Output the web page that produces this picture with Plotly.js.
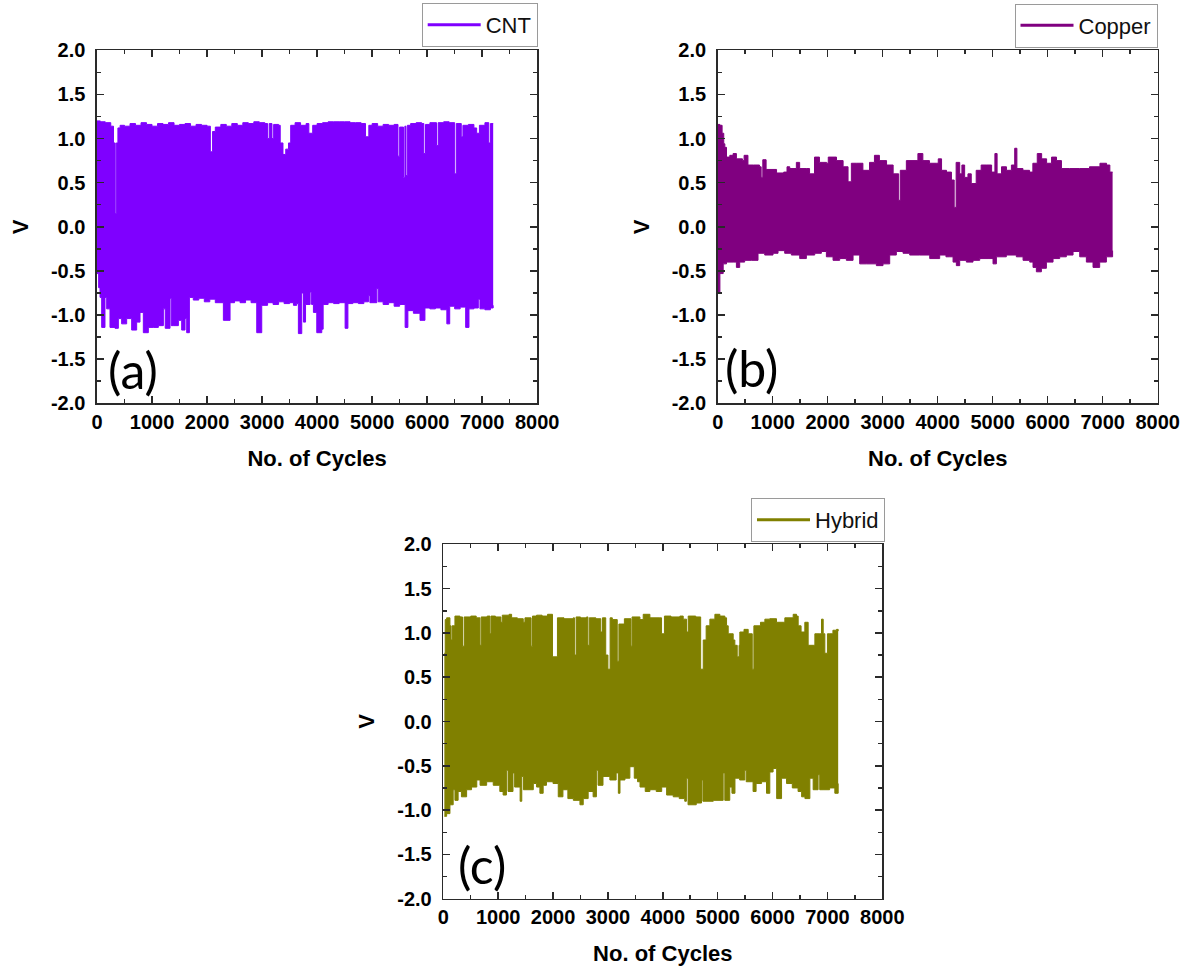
<!DOCTYPE html>
<html>
<head>
<meta charset="utf-8">
<script src="https://cdn.plot.ly/plotly-3.0.1.min.js"></script>
<style>html,body{margin:0;padding:0;background:#fff;}#chart{width:1189px;height:969px;}</style>
</head>
<body>
<div id="chart"></div>
<script>
// ---------- Data ----------
const seriesNames = ["CNT", "Copper", "Hybrid"];
const panelLabels = ["(a)", "(b)", "(c)"];
const xTickVals = [0, 1000, 2000, 3000, 4000, 5000, 6000, 7000, 8000];
const yTickVals = [-2.0, -1.5, -1.0, -0.5, 0.0, 0.5, 1.0, 1.5, 2.0];

// CNT – upper envelope
const cntUpperCycles = [0,60,150,250,300,330,350,380,420,500,600,700,800,900,1000,1100,1200,1300,1400,1500,1600,1700,1800,1900,2000,2060,2100,2150,2250,2350,2450,2550,2650,2750,2850,2950,3050,3100,3130,3180,3210,3300,3330,3380,3430,3480,3520,3600,3700,3800,3850,3920,4000,4100,4200,4300,4400,4500,4600,4700,4800,4880,4940,5000,5100,5200,5300,5400,5470,5500,5570,5595,5615,5640,5700,5800,5900,5940,5970,6050,6170,6200,6300,6400,6500,6530,6620,6650,6750,6850,6900,6950,7050,7120,7150,7200];
const cntUpperV = [1.20,1.19,1.18,1.14,0.95,0.15,0.95,1.12,1.15,1.14,1.17,1.15,1.18,1.16,1.14,1.17,1.16,1.18,1.15,1.16,1.17,1.14,1.16,1.15,1.14,0.85,1.08,1.13,1.16,1.14,1.17,1.15,1.18,1.17,1.19,1.18,1.17,1.00,1.17,1.00,1.16,1.15,0.95,0.82,0.88,0.95,1.15,1.18,1.15,1.17,1.06,1.15,1.17,1.18,1.19,1.19,1.19,1.19,1.18,1.18,1.17,1.02,1.15,1.17,1.14,1.16,1.15,1.16,0.80,1.13,0.56,1.14,0.58,1.15,1.17,1.18,1.17,0.83,1.16,1.18,0.92,1.18,1.19,1.18,0.60,1.17,1.02,1.15,1.16,1.12,1.06,1.15,1.18,0.95,1.17,1.17];
// CNT – lower envelope
const cntLowerCycles = [0,30,55,85,145,176,236,327,388,448,539,630,721,782,842,933,1024,1115,1206,1240,1327,1350,1388,1479,1539,1600,1630,1679,1750,1850,1950,2050,2150,2297,2418,2500,2600,2700,2800,2903,2964,2994,3100,3200,3300,3400,3500,3570,3630,3660,3721,3752,3790,3873,3900,3933,3994,4085,4110,4200,4300,4400,4509,4560,4650,4750,4850,4933,4960,5085,5110,5200,5300,5400,5500,5600,5650,5750,5870,5960,6050,6150,6250,6358,6410,6500,6600,6700,6760,6850,6930,6960,7050,7150,7200];
const cntLowerV = [-0.53,-0.69,-0.80,-1.14,-0.80,-0.93,-1.14,-1.15,-1.04,-1.10,-1.04,-1.17,-1.08,-0.97,-1.20,-1.14,-1.14,-1.12,-0.93,-1.15,-0.81,-1.12,-1.12,-1.06,-1.17,-1.04,-1.20,-0.80,-0.83,-0.81,-0.85,-0.82,-0.86,-1.06,-0.86,-0.84,-0.86,-0.83,-0.86,-1.20,-1.20,-0.89,-0.86,-0.88,-0.85,-0.87,-0.86,-0.89,-0.87,-1.21,-0.75,-1.08,-0.88,-0.74,-0.88,-0.97,-1.20,-1.16,-0.88,-0.86,-0.87,-0.86,-1.15,-0.87,-0.86,-0.87,-0.85,-0.78,-0.86,-0.70,-0.85,-0.88,-0.86,-0.90,-0.88,-1.14,-0.95,-0.98,-1.06,-0.92,-0.93,-0.92,-0.94,-1.10,-0.90,-0.93,-0.91,-1.14,-0.93,-0.92,-0.82,-0.93,-0.94,-0.92,-0.89];

// Copper – upper envelope
const cuUpperCycles = [0,40,80,110,130,160,220,280,340,450,480,550,650,760,790,820,880,1070,1200,1260,1310,1430,1490,1610,1670,1760,1850,1980,2010,2160,2280,2370,2430,2520,2640,2760,2850,2940,3070,3190,3290,3320,3430,3640,3730,3850,3980,4010,4070,4160,4250,4300,4335,4400,4440,4490,4550,4610,4700,4790,4880,4980,5040,5080,5160,5250,5340,5400,5440,5550,5670,5730,5810,5890,5980,6070,6160,6250,6400,6580,6760,6950,7070,7130,7180];
const cuUpperV = [1.16,1.15,1.06,0.94,0.90,0.79,0.81,0.83,0.77,0.75,0.81,0.70,0.70,0.68,0.56,0.76,0.65,0.61,0.62,0.68,0.66,0.73,0.66,0.66,0.60,0.79,0.73,0.72,0.79,0.75,0.68,0.51,0.72,0.72,0.64,0.73,0.81,0.75,0.70,0.60,0.30,0.64,0.75,0.83,0.75,0.72,0.72,0.77,0.64,0.62,0.53,0.22,0.73,0.60,0.70,0.56,0.60,0.49,0.64,0.70,0.70,0.62,0.83,0.60,0.68,0.64,0.70,0.89,0.66,0.64,0.62,0.72,0.83,0.77,0.72,0.79,0.75,0.66,0.66,0.66,0.68,0.72,0.70,0.62,0.62];
// Copper – lower envelope
const cuLowerCycles = [0,40,100,160,280,340,400,490,610,733,855,1006,1097,1218,1339,1491,1612,1764,1885,1976,2097,2218,2339,2461,2582,2703,2885,3006,3127,3248,3370,3491,3673,3855,4036,4150,4218,4279,4339,4400,4521,4642,4764,4915,5006,5067,5248,5430,5552,5673,5733,5794,5885,5976,6097,6218,6339,6461,6582,6703,6824,6945,7067,7180];
const cuLowerV = [-0.75,-0.53,-0.42,-0.40,-0.40,-0.46,-0.40,-0.38,-0.38,-0.30,-0.32,-0.30,-0.27,-0.30,-0.32,-0.36,-0.32,-0.30,-0.28,-0.34,-0.38,-0.36,-0.38,-0.32,-0.42,-0.42,-0.44,-0.42,-0.32,-0.28,-0.30,-0.32,-0.32,-0.36,-0.32,-0.34,-0.34,-0.40,-0.44,-0.38,-0.40,-0.38,-0.36,-0.36,-0.42,-0.34,-0.32,-0.34,-0.38,-0.40,-0.46,-0.51,-0.47,-0.40,-0.36,-0.34,-0.32,-0.28,-0.34,-0.40,-0.46,-0.40,-0.34,-0.27];

// Hybrid – upper envelope
const hyUpperCycles = [19,35,61,121,140,160,212,303,350,380,500,600,668,690,800,850,870,950,1050,1075,1200,1245,1350,1457,1488,1600,1625,1700,1800,1900,1990,2080,2200,2368,2390,2420,2500,2611,2635,2660,2780,2870,2900,2960,3000,3040,3080,3170,3200,3300,3420,3440,3583,3643,3765,3947,3977,4030,4150,4311,4372,4433,4463,4600,4690,4737,4790,4858,4949,5040,5131,5162,5192,5283,5313,5356,5390,5404,5480,5556,5630,5660,5780,5860,5950,6072,6194,6224,6376,6437,6467,6520,6588,6649,6740,6771,6862,6892,6923,6953,7000,7044,7100,7166,7196];
const hyUpperV = [0.77,1.15,1.17,1.08,0.92,1.08,1.19,1.18,0.85,1.18,1.19,1.17,0.86,1.18,1.19,0.99,1.19,1.18,1.12,1.20,1.21,1.17,1.16,1.12,1.17,0.85,1.19,1.20,1.19,1.21,0.73,1.17,1.16,1.17,0.75,1.18,1.17,1.18,0.86,1.17,1.16,1.01,1.17,0.75,0.59,1.17,1.15,0.68,1.10,1.16,0.85,1.18,1.15,1.21,1.17,1.17,0.99,1.19,1.18,1.19,1.155,1.01,1.19,1.18,0.59,0.92,1.08,1.155,1.21,1.19,1.17,1.08,0.99,0.92,0.86,0.73,0.86,1.01,1.04,0.99,0.59,1.08,1.12,1.155,1.16,1.12,1.12,1.17,1.21,1.19,1.08,1.01,1.12,0.86,0.86,0.99,0.99,1.155,0.99,0.77,0.99,0.99,1.03,1.04,1.02];
// Hybrid – lower envelope
const hyLowerCycles = [19,61,121,180,212,270,330,425,515,610,670,790,910,1030,1090,1150,1180,1270,1300,1400,1430,1460,1640,1700,1760,1820,1880,2000,2095,2180,2270,2370,2490,2550,2640,2730,2790,2820,2910,3035,3150,3190,3220,3310,3400,3480,3540,3585,3680,3765,3880,3980,4070,4190,4300,4400,4430,4460,4610,4705,4730,4920,5100,5130,5220,5260,5315,5400,5495,5520,5645,5700,5800,5890,5950,6010,6075,6164,6255,6360,6465,6530,6590,6680,6740,6830,6860,6920,7040,7135,7196];
const hyLowerV = [-1.07,-1.04,-0.94,-0.77,-0.89,-0.79,-0.85,-0.77,-0.74,-0.66,-0.72,-0.68,-0.72,-0.79,-0.83,-0.55,-0.79,-0.58,-0.74,-0.90,-0.62,-0.77,-0.70,-0.74,-0.81,-0.72,-0.68,-0.70,-0.85,-0.77,-0.87,-0.89,-0.94,-0.87,-0.79,-0.85,-0.55,-0.72,-0.62,-0.66,-0.58,-0.81,-0.66,-0.64,-0.51,-0.64,-0.68,-0.74,-0.79,-0.77,-0.79,-0.74,-0.83,-0.85,-0.87,-0.90,-0.64,-0.94,-0.92,-0.66,-0.90,-0.89,-0.58,-0.89,-0.74,-0.81,-0.64,-0.66,-0.55,-0.68,-0.79,-0.70,-0.68,-0.81,-0.57,-0.53,-0.87,-0.64,-0.70,-0.75,-0.79,-0.85,-0.87,-0.64,-0.77,-0.60,-0.77,-0.77,-0.75,-0.81,-0.70];

// ---------- Styling ----------
const colors = ["#7F00FF", "#800080", "#808000"];
const W = 1189, H = 969;
// plot-area pixel boxes [left, top, right, bottom]
const boxes = [[97, 50.3, 537.2, 403.3], [717.7, 50.3, 1157.7, 403.3], [443.3, 544.3, 882.3, 898.7]];
const legendPos = [[537.7, 3], [1157.5, 3.5], [885, 498]];
const labelPos = [[133, 369.5], [751, 368], [482, 865]];

const data = [];
const sets = [
  [cntLowerCycles, cntLowerV, cntUpperCycles, cntUpperV],
  [cuLowerCycles, cuLowerV, cuUpperCycles, cuUpperV],
  [hyLowerCycles, hyLowerV, hyUpperCycles, hyUpperV]
];
sets.forEach((s, i) => {
  const ax = i === 0 ? "" : String(i + 1);
  const xa = "x" + ax, ya = "y" + ax;
  const leg = i === 0 ? "legend" : "legend" + (i + 1);
  data.push({x: s[0], y: s[1], xaxis: xa, yaxis: ya, mode: "lines", line: {color: colors[i], width: 1, shape: "hv"},
             showlegend: false, hoverinfo: "skip"});
  data.push({x: s[2], y: s[3], xaxis: xa, yaxis: ya, mode: "lines", line: {color: colors[i], width: 1, shape: "hv"},
             fill: "tonexty", fillcolor: colors[i], showlegend: false, hoverinfo: "skip"});
  data.push({x: [null], y: [null], xaxis: xa, yaxis: ya, mode: "lines", name: seriesNames[i],
             line: {color: colors[i], width: 3}, showlegend: true, legend: leg});
});

const tickFont = {family: "Liberation Sans, Arial, sans-serif", size: 20, color: "#000", weight: "bold"};
const titleFont = {family: "Liberation Sans, Arial, sans-serif", size: 22, color: "#000", weight: "bold"};

const layout = {
  width: W, height: H,
  margin: {l: 0, r: 0, t: 0, b: 0},
  paper_bgcolor: "#fff", plot_bgcolor: "#fff",
  annotations: [],
  showlegend: true
};

boxes.forEach((b, i) => {
  const ax = i === 0 ? "" : String(i + 1);
  const common = {
    showline: true, linecolor: "#2a2a2a", linewidth: 1.6, mirror: "ticks",
    ticks: "inside", ticklen: 7, tickwidth: 1.5, tickcolor: "#2a2a2a",
    showgrid: false, zeroline: false, tickfont: tickFont, fixedrange: true
  };
  layout["xaxis" + ax] = Object.assign({}, common, {
    domain: [b[0] / W, b[2] / W], anchor: "y" + ax, range: [0, 8000],
    tickvals: xTickVals, ticktext: xTickVals.map(String),
    minor: {dtick: 500, tick0: 0, ticks: "inside", ticklen: 4, tickwidth: 1.5, tickcolor: "#2a2a2a", showgrid: false},
    ticklabelstandoff: 0,
    title: {text: "No. of Cycles", font: titleFont, standoff: 18}
  });
  layout["yaxis" + ax] = Object.assign({}, common, {
    domain: [1 - b[3] / H, 1 - b[1] / H], anchor: "x" + ax, range: [-2, 2],
    tickvals: yTickVals, ticktext: yTickVals.map(v => v.toFixed(1)),
    minor: {dtick: 0.25, tick0: 0, ticks: "inside", ticklen: 4, tickwidth: 1.5, tickcolor: "#2a2a2a", showgrid: false},
    ticklabelstandoff: 6,
    title: {text: "V", font: titleFont, standoff: 16}
  });
  const leg = i === 0 ? "legend" : "legend" + (i + 1);
  layout[leg] = {
    x: legendPos[i][0] / W, y: 1 - legendPos[i][1] / H, xanchor: "right", yanchor: "top",
    xref: "paper", yref: "paper",
    bgcolor: "#fff", bordercolor: "#9a9a9a", borderwidth: 1,
    font: {family: "Liberation Sans, Arial, sans-serif", size: 22, color: "#111"},
    itemwidth: 53, tracegroupgap: 0
  };
  layout.annotations.push({
    text: panelLabels[i], xref: "paper", yref: "paper",
    x: labelPos[i][0] / W, y: 1 - labelPos[i][1] / H, xanchor: "center", yanchor: "middle",
    showarrow: false, font: {family: "Lato, Open Sans, sans-serif", size: 50, color: "#000"}
  });
});

Plotly.newPlot("chart", data, layout, {displayModeBar: false, staticPlot: true});
</script>
</body>
</html>
